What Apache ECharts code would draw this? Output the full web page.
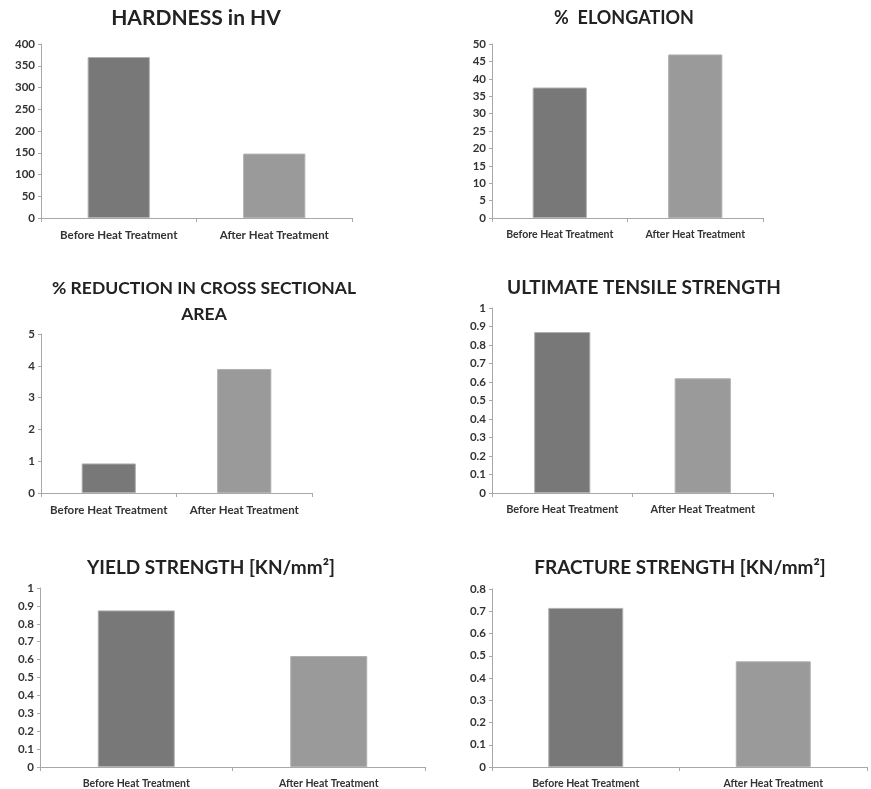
<!DOCTYPE html>
<html>
<head>
<meta charset="utf-8">
<title>Heat treatment charts</title>
<script src="https://cdn.jsdelivr.net/npm/echarts@6/dist/echarts.min.js"></script>
<style>
html, body { margin: 0; padding: 0; background: #fff; }
#myChart { width: 871px; height: 789px; }
</style>
</head>
<body>
<div id="myChart"></div>
<script>
// data
var categories = ['Before Heat Treatment', 'After Heat Treatment'];
var hardness = [370, 148];
var elongation = [37.5, 47];
var reduction = [0.93, 3.9];
var ultimateTensile = [0.87, 0.62];
var yieldStrength = [0.875, 0.62];
var fractureStrength = [0.715, 0.475];

var titles = ['HARDNESS in HV', '%  ELONGATION', '% REDUCTION IN CROSS SECTIONAL\nAREA',
    'ULTIMATE TENSILE STRENGTH', 'YIELD STRENGTH [KN/mm²]', 'FRACTURE STRENGTH [KN/mm²]'];
var yMax = [400, 50, 5, 1, 1, 0.8];
var yStep = [50, 5, 1, 0.1, 0.1, 0.1];
var seriesData = [hardness, elongation, reduction, ultimateTensile, yieldStrength, fractureStrength];

// layout of each panel (px)
var panels = [
    { left: 41, top: 44, width: 311, height: 174, tx: 191, ty: 0, ts: 21, label: 11.5 },
    { left: 492, top: 44, width: 271, height: 174, tx: 619, ty: 0, ts: 18, label: 10.5 },
    { left: 41, top: 334, width: 271, height: 159, tx: 199, ty: 270, ts: 17.5, label: 11.5 },
    { left: 492, top: 308, width: 281, height: 185, tx: 639, ty: 270, ts: 19, label: 11 },
    { left: 40, top: 588, width: 385, height: 179, tx: 206, ty: 550, ts: 19, label: 10.5 },
    { left: 492, top: 589, width: 375, height: 178, tx: 675, ty: 550, ts: 19, label: 10.5 }
];

var barColors = ['#787878', '#9a9a9a'];
var fontName = 'Lato';

var option = { animation: false, title: [], grid: [], xAxis: [], yAxis: [], series: [] };

panels.forEach(function (p, i) {
    option.title.push({
        text: titles[i],
        left: p.tx,
        top: p.ty,
        textAlign: 'center',
        textStyle: { fontFamily: fontName, fontSize: p.ts, fontWeight: 'bold', color: '#222', lineHeight: 26 }
    });
    option.grid.push({ left: p.left, top: p.top, width: p.width, height: p.height, containLabel: false });
    option.xAxis.push({
        type: 'category',
        gridIndex: i,
        data: categories,
        axisLine: { lineStyle: { color: '#a8a8a8', width: 1 } },
        axisTick: { show: true, length: 4, lineStyle: { color: '#a8a8a8' } },
        axisLabel: { interval: 0, fontFamily: fontName, fontSize: p.label, fontWeight: 'bold', color: '#333', margin: 11 }
    });
    option.yAxis.push({
        type: 'value',
        gridIndex: i,
        min: 0,
        max: yMax[i],
        interval: yStep[i],
        axisLine: { show: true, lineStyle: { color: '#a8a8a8', width: 1 } },
        axisTick: { show: true, length: 3, lineStyle: { color: '#a8a8a8' } },
        splitLine: { show: false },
        axisLabel: { fontFamily: fontName, fontSize: 11.5, fontWeight: 'bold', color: '#333', margin: 6 }
    });
    option.series.push({
        type: 'bar',
        xAxisIndex: i,
        yAxisIndex: i,
        barWidth: '40%',
        data: seriesData[i].map(function (v, k) {
            return { value: v, itemStyle: { color: barColors[k], borderColor: '#b0b0b0', borderWidth: 1 } };
        })
    });
});

var myChart = echarts.init(document.getElementById('myChart'));
myChart.setOption(option);
</script>
</body>
</html>
